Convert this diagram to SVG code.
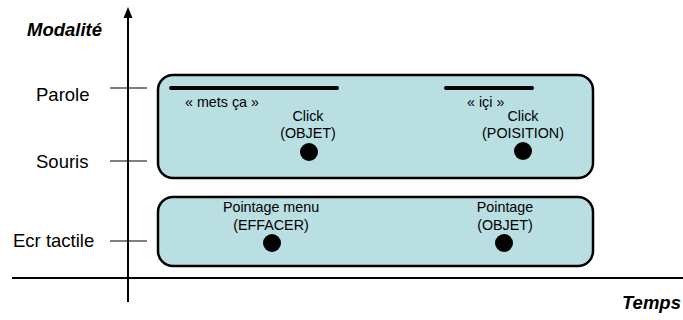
<svg xmlns="http://www.w3.org/2000/svg" width="683" height="320" viewBox="0 0 683 320">
  <style>
    .axis { stroke: #000; stroke-width: 2; fill: none; }
    .tick { stroke: #000; stroke-width: 1.2; }
    .box { fill: #b9dfe3; stroke: #000; stroke-width: 2.5; }
    .bar { stroke: #000; stroke-width: 4; stroke-linecap: round; }
    .dot { fill: #000; }
    .lbl { font-family: "Liberation Sans", Arial, sans-serif; font-size: 18.5px; fill: #000; }
    .ttl { font-family: "Liberation Sans", Arial, sans-serif; font-size: 18.5px; font-weight: bold; font-style: italic; fill: #000; }
    .txt { font-family: "Liberation Sans", Arial, sans-serif; font-size: 14.3px; fill: #000; }
    .mid { text-anchor: middle; }
  </style>
  <rect width="683" height="320" fill="#fff"/>

  <!-- axes and ticks -->
  <g id="axes">
    <line class="axis" x1="128" y1="302" x2="128" y2="15"/>
    <polygon points="128,7 123.5,18 132.5,18" fill="#000"/>
    <line class="axis" x1="12" y1="278" x2="683" y2="278"/>
    <line class="tick" x1="110" y1="88" x2="147" y2="88"/>
    <line class="tick" x1="110" y1="161" x2="147" y2="161"/>
    <line class="tick" x1="110" y1="241" x2="147" y2="241"/>
    <text class="ttl" x="27" y="36">Modalité</text>
    <text class="ttl" x="622" y="309">Temps</text>
    <text class="lbl" x="36" y="101">Parole</text>
    <text class="lbl" x="36" y="168">Souris</text>
    <text class="lbl" x="13" y="247">Ecr tactile</text>
  </g>

  <!-- speech + mouse events -->
  <g id="voice-mouse">
    <rect class="box" x="158" y="75" width="435" height="103" rx="15" ry="15"/>
    <line class="bar" x1="171" y1="88" x2="337" y2="88"/>
    <line class="bar" x1="446" y1="88" x2="532" y2="88"/>
    <text class="txt" x="185" y="107">« mets ça »</text>
    <text class="txt" x="467" y="107">« içi »</text>
    <text class="txt mid" x="308" y="121">Click</text>
    <text class="txt mid" x="308" y="138">(OBJET)</text>
    <circle class="dot" cx="309" cy="152" r="9"/>
    <text class="txt mid" x="523" y="121">Click</text>
    <text class="txt mid" x="523" y="138">(POISITION)</text>
    <circle class="dot" cx="523" cy="151" r="9"/>
  </g>

  <!-- touch screen events -->
  <g id="touch">
    <rect class="box" x="158" y="197" width="435" height="69" rx="15" ry="15"/>
    <text class="txt mid" x="271" y="212">Pointage menu</text>
    <text class="txt mid" x="271" y="230">(EFFACER)</text>
    <circle class="dot" cx="272" cy="243" r="9"/>
    <text class="txt mid" x="505" y="212">Pointage</text>
    <text class="txt mid" x="505" y="230">(OBJET)</text>
    <circle class="dot" cx="504" cy="243" r="9"/>
  </g>
</svg>
